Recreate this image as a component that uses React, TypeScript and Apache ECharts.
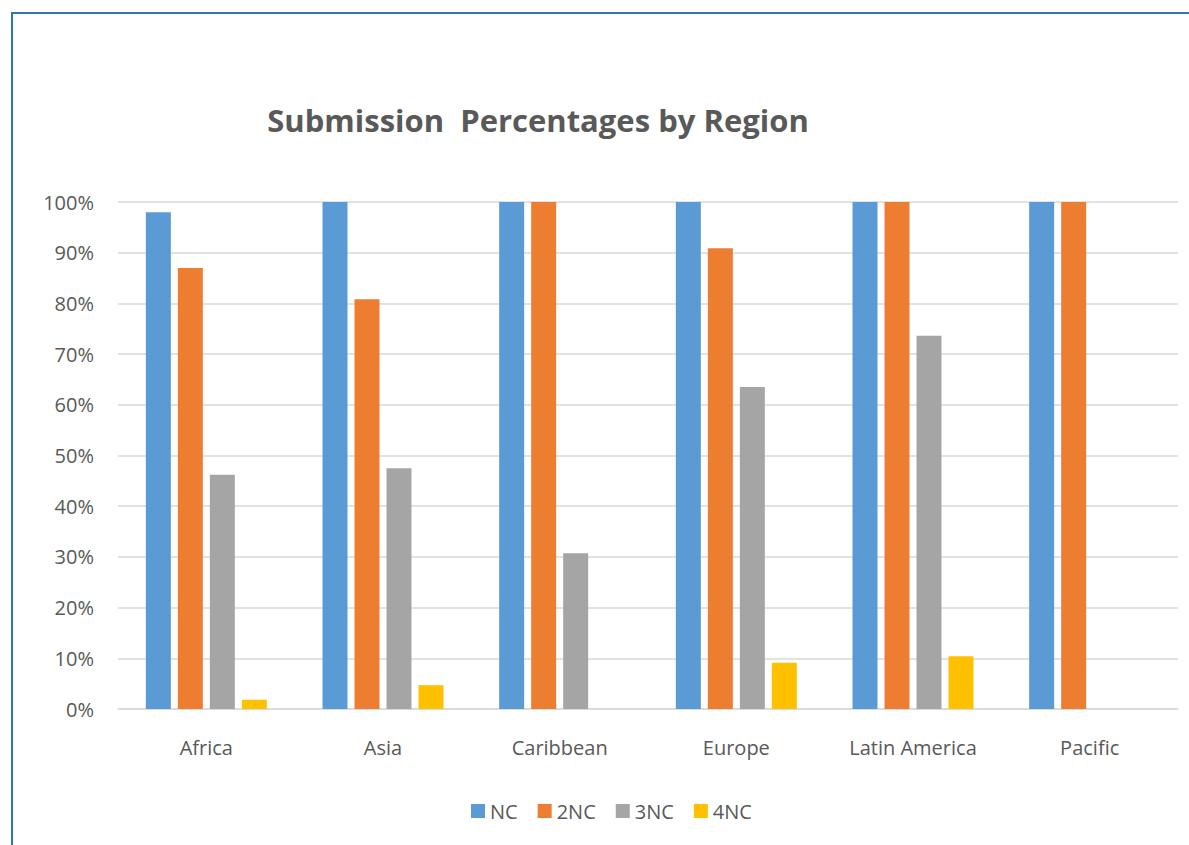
import React, { useEffect, useRef } from "react";
import * as echarts from "echarts";

const categories = ["Africa", "Asia", "Caribbean", "Europe", "Latin America", "Pacific"];
const seriesNames = ["NC", "2NC", "3NC", "4NC"];
const nc = [98.0, 100, 100, 100, 100, 100];
const nc2 = [87.0, 80.8, 100, 90.9, 100, 100];
const nc3 = [46.2, 47.5, 30.7, 63.5, 73.6, 0];
const nc4 = [1.8, 4.7, 0, 9.1, 10.4, 0];
const colors = ["#5B9BD5", "#ED7D31", "#A5A5A5", "#FFC000"];
const yTicks = [0, 10, 20, 30, 40, 50, 60, 70, 80, 90, 100];

const FONT = "'Open Sans', 'Noto Sans', sans-serif";

export default function App() {
  const ref = useRef<HTMLDivElement>(null);
  useEffect(() => {
    if (!ref.current) return;
    const chart = echarts.init(ref.current, undefined, { renderer: "svg" });
    const data = [nc, nc2, nc3, nc4];
    chart.setOption({
      animation: false,
      backgroundColor: "#ffffff",
      title: {
        text: "Submission  Percentages by Region",
        left: 533,
        textAlign: "center",
        top: 99,
        textStyle: { fontFamily: FONT, fontSize: 31, fontWeight: "bold", color: "#595959" },
      },
      graphic: [
        {
          type: "rect",
          shape: { x: 12, y: 13, width: 1250, height: 900 },
          style: { fill: "none", stroke: "#2E75B6", lineWidth: 2 },
          silent: true,
        },
      ],
      legend: {
        data: seriesNames,
        bottom: 19,
        left: 466,
        icon: "rect",
        itemWidth: 14,
        itemHeight: 14,
        itemGap: 20,
        textStyle: { fontFamily: FONT, fontSize: 20, color: "#595959" },
      },
      grid: { left: 118, right: 11, top: 202, bottom: 136 },
      xAxis: {
        type: "category",
        data: categories,
        axisLine: { show: true, lineStyle: { color: "#D9D9D9", width: 1.5 } },
        axisTick: { show: false },
        axisLabel: { fontFamily: FONT, fontSize: 20, color: "#595959", margin: 28 },
      },
      yAxis: {
        type: "value",
        min: 0,
        max: 100,
        interval: 10,
        axisLine: { show: false },
        axisTick: { show: false },
        splitLine: { lineStyle: { color: "#D9D9D9", width: 1.5 } },
        axisLabel: {
          fontFamily: FONT,
          fontSize: 20,
          color: "#595959",
          margin: 24,
          formatter: (v: number) => (yTicks.includes(v) ? v + "%" : ""),
        },
      },
      series: seriesNames.map((name, i) => ({
        name,
        type: "bar",
        data: data[i],
        barWidth: 25,
        barGap: "28%",
        itemStyle: { color: colors[i] },
      })),
    });
    return () => chart.dispose();
  }, []);
  return (
    <div
      ref={ref}
      style={{ position: "absolute", left: 0, top: 0, width: 1189, height: 845 }}
    />
  );
}
